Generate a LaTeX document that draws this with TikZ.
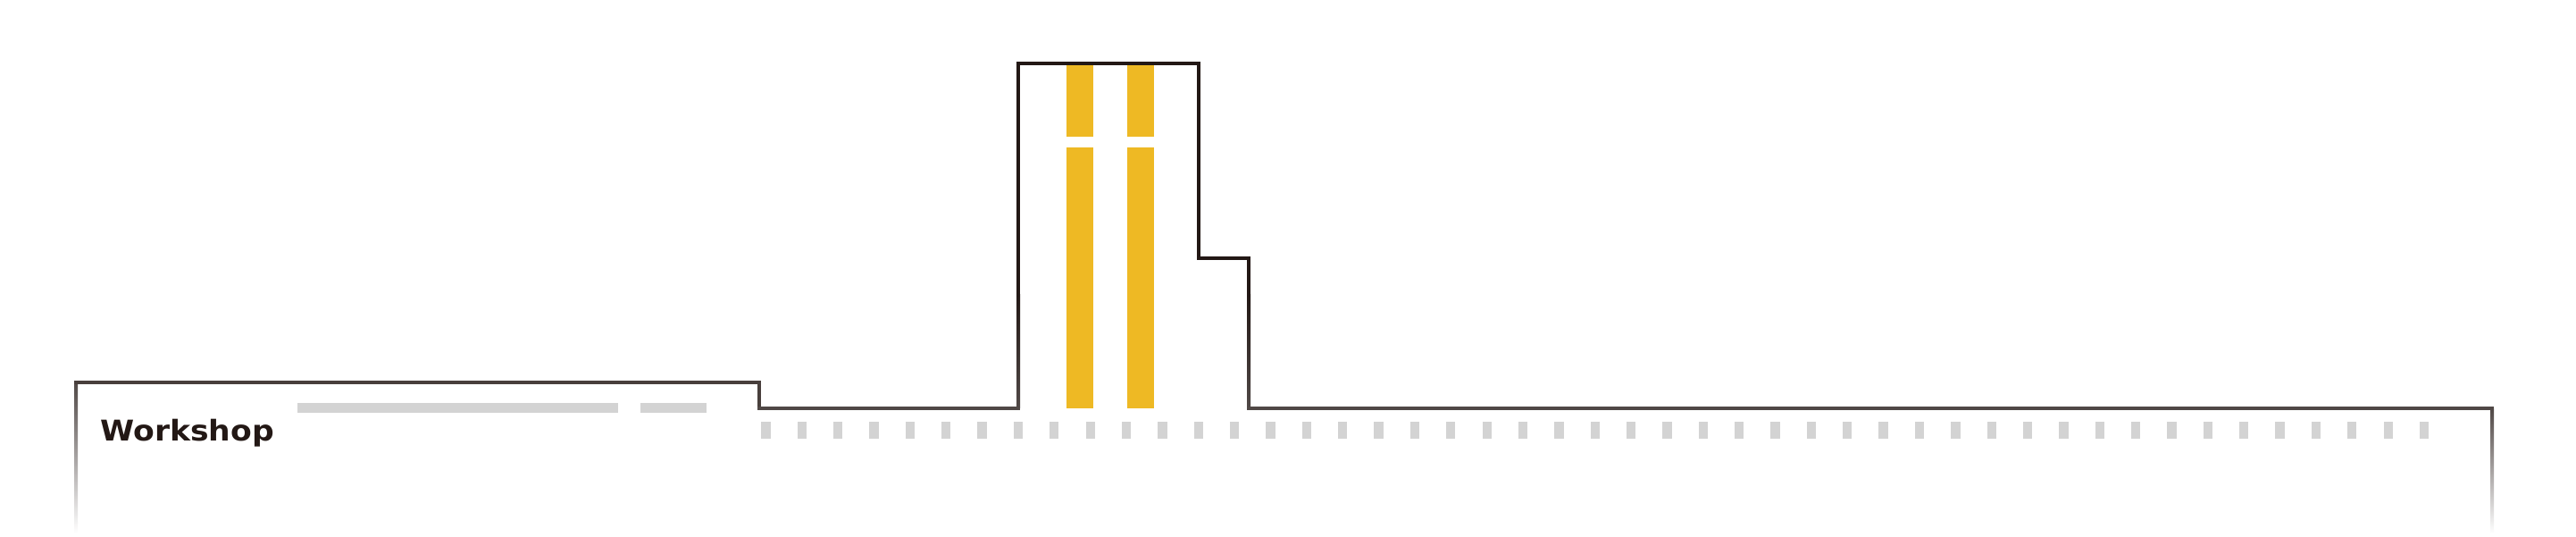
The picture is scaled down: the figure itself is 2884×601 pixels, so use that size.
\documentclass[tikz,border=0pt]{standalone}
\usepackage{fontspec}
\newfontfamily\labelfont{DejaVu Sans}
\definecolor{lineA}{RGB}{35,24,21}
\definecolor{lineB}{RGB}{80,72,70}
\definecolor{lineC}{RGB}{72,63,60}
\definecolor{barYellow}{RGB}{238,185,36}
\definecolor{barGray}{RGB}{211,211,211}
\definecolor{labelInk}{RGB}{35,24,21}
\tikzset{
  darkline/.style={fill=lineA},
  grayline/.style={fill=lineB},
  midline/.style={fill=lineC},
  yellowbar/.style={fill=barYellow},
  graybar/.style={fill=barGray},
  fadeline/.style={top color=lineB, bottom color=white},
  darkfade/.style={top color=lineA, bottom color=lineB},
  labeltext/.style={anchor=base west, inner sep=0pt, text=labelInk,
    font=\labelfont\bfseries\fontsize{32pt}{32pt}\selectfont}
}
\begin{document}
\begin{tikzpicture}[x=1pt,y=1pt]
\useasboundingbox (0,0) rectangle (2884,-601);
% yellow bars in the tall building
\fill[yellowbar] (1194.3,-70) rectangle (1224,-152.7);
\fill[yellowbar] (1262.3,-70) rectangle (1292,-152.7);
\fill[yellowbar] (1194.3,-165) rectangle (1224,-457.3);
\fill[yellowbar] (1262.3,-165) rectangle (1292,-457.3);
% gray bars
\fill[graybar] (332.7,-450.7) rectangle (691.5,-462);
\fill[graybar] (717,-450.7) rectangle (790.8,-462);
% dashes
\foreach \i in {0,...,46}{
  \fill[graybar] ({852.3+40.36*\i},-471.7) rectangle ++(10.3,-19.3);
}
% outline (line width 4, half 2)
% vertical strokes of the tall building
\fill[darkline] (1138,-68.7) rectangle (1142,-331);
\shade[darkfade] (1138,-330) rectangle (1142,-456);
\fill[darkline] (1340,-68.7) rectangle (1344,-291);
\fill[darkline] (1396,-287) rectangle (1400,-331);
\shade[darkfade] (1396,-330) rectangle (1400,-456);
% left part
\shade[fadeline] (83,-428) rectangle (87,-597);
\fill[midline] (83,-426.3) rectangle (852,-430.3);
\fill[midline] (848,-426.3) rectangle (852,-459);
\fill[grayline] (848,-455) rectangle (1142,-459);
% horizontal strokes of the tall building
\fill[darkline] (1138,-68.7) rectangle (1344,-72.7);
\fill[darkline] (1340,-287) rectangle (1400,-291);
% right part
\fill[grayline] (1396,-455) rectangle (2792,-459);
\shade[fadeline] (2788,-457) rectangle (2792,-597);
% label
\node[labeltext] (workshop) at (112.3,-493.3) {\scalebox{1.08}[1]{Workshop}};
\end{tikzpicture}
\end{document}
